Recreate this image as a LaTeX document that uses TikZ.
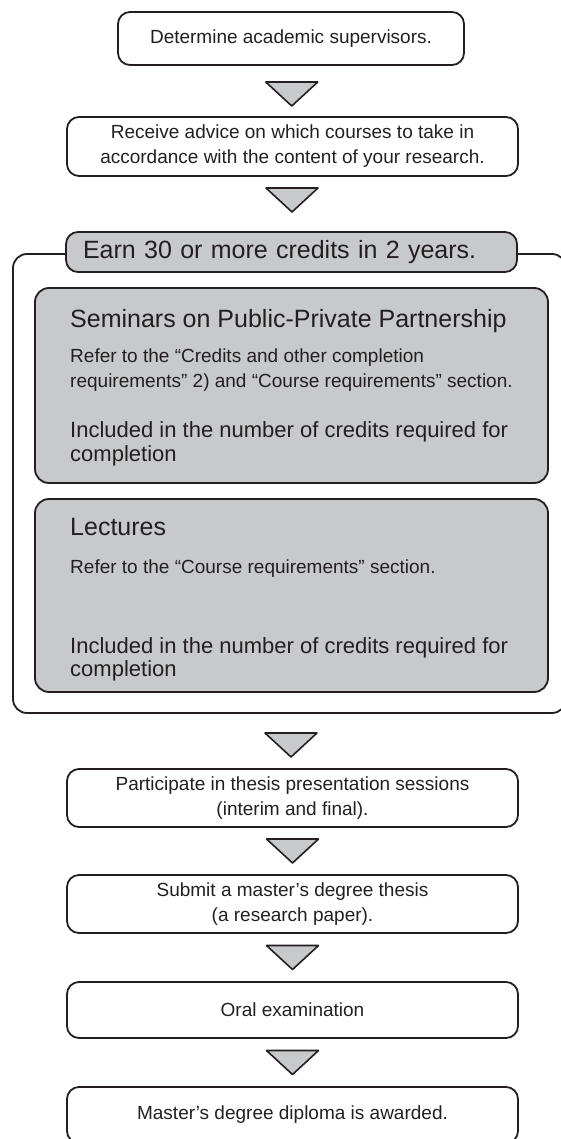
\documentclass[tikz,border=0pt]{standalone}
\usepackage{fontspec}
\setmainfont{Liberation Sans}
\usetikzlibrary{calc}
\definecolor{boxgray}{RGB}{200,201,203}
\definecolor{ink}{RGB}{35,31,32}
% grey triangle between two steps, optional vertical nudge
\newcommand\stepdown[3][0]{\draw[arr] ($(#2.south)!.5!(#3.north)+(-26,12+#1)$) -- ++(52,0) -- ++(-26,-24) -- cycle;}
\begin{document}
\begin{tikzpicture}[x=1pt,y=1pt,line width=1.8pt,
    stepbox/.style={draw=ink,rounded corners=12pt,minimum width=451,minimum height=58,align=center,text=ink,font=\fontsize{19}{25}\selectfont},
    greybox/.style={stepbox,fill=boxgray,rounded corners=14pt,minimum width=513},
    titlebox/.style={stepbox,fill=boxgray,minimum height=40,text width=417,inner xsep=17,align=left,font=\fontsize{25}{30}\selectfont},
    frame/.style={draw=ink,rounded corners=14pt,minimum width=553,minimum height=459},
    arr/.style={draw=ink,fill=boxgray,line width=1.6pt,line join=round},
    hd/.style={anchor=base west,text=ink,font=\fontsize{25}{30}\selectfont},
    sm/.style={anchor=base west,text=ink,font=\fontsize{19}{25}\selectfont},
    md/.style={anchor=base west,text=ink,font=\fontsize{22}{24}\selectfont}]
    \useasboundingbox (0,0) rectangle (560,-1139);
    \node[stepbox,minimum width=346,minimum height=53] (sup) at (291,-38.5) {Determine academic supervisors.};
    \node[stepbox,minimum height=59] (adv) at (292.5,-146.5) {Receive advice on which courses to take in\\accordance with the content of your research.};
    % credits frame
    \node[frame] (frm) at (289.5,-483.5) {};
    \node[titlebox] (earn) at (291.5,-252) {Earn 30 or more credits in 2 years.};
    \node[greybox,minimum height=195] (sem) at (291.5,-385.5) {};
    \node[greybox,minimum height=193] (lec) at (291.5,-595.5) {};
    \node[hd] (semhd) at (66,-327) {Seminars on Public-Private Partnership};
    \foreach[count=\i] \y/\t in {362/Refer to the “Credits and other completion,387/requirements”\ 2) and “Course requirements”\ section.} {
        \node[sm] (semref\i) at (66,-\y) {\t};
    }
    \foreach[count=\i] \y/\t in {437/Included in the number of credits required for,461/completion} {
        \node[md] (seminc\i) at (66,-\y) {\t};
    }
    \node[hd] (lechd) at (66,-535) {Lectures};
    \node[sm] (lecref) at (66,-573) {Refer to the “Course requirements” section.};
    \foreach[count=\i] \y/\t in {653/Included in the number of credits required for,676/completion} {
        \node[md] (lecinc\i) at (66,-\y) {\t};
    }
    % after the credits
    \node[stepbox] (part) at (292.5,-798) {Participate in thesis presentation sessions\\(interim and final).};
    \node[stepbox] (sub) at (292.5,-904) {Submit a master’s degree thesis\\(a research paper).};
    \node[stepbox,minimum height=56] (oral) at (292.5,-1010) {Oral examination};
    \node[stepbox,minimum height=56] (dip) at (292.5,-1115) {Master’s degree diploma is awarded.};
    \stepdown[-3]{sup}{adv}
    \stepdown[4]{adv}{earn}
    \stepdown[-4]{frm}{part}
    \stepdown{part}{sub}
    \stepdown{sub}{oral}
    \stepdown{oral}{dip}
\end{tikzpicture}
\end{document}
